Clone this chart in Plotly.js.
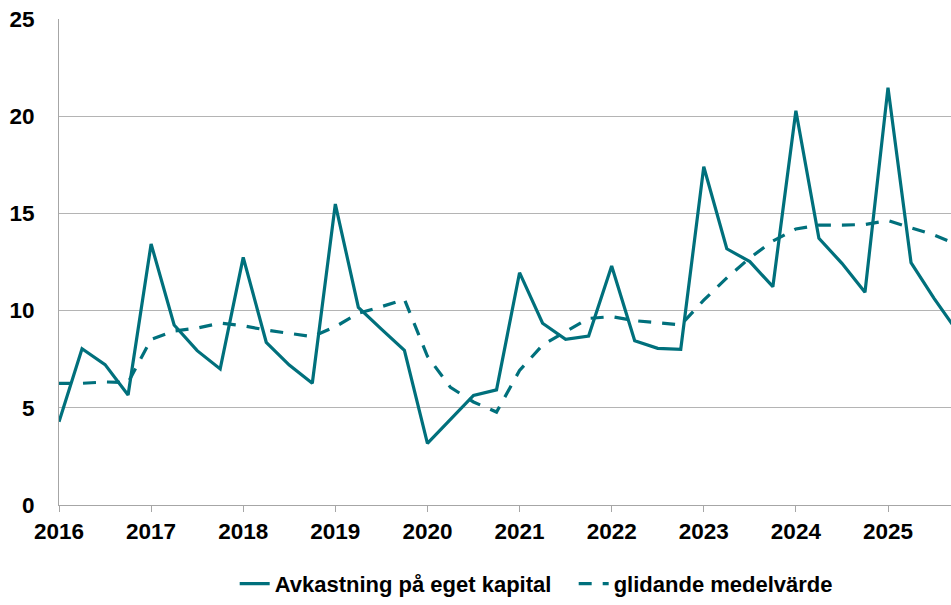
<!DOCTYPE html>
<html>
<head>
<meta charset="utf-8">
<script src="https://cdn.plot.ly/plotly-3.0.1.min.js"></script>
<style>html,body{margin:0;padding:0;background:#fff;}#chart{width:951px;height:605px;}</style>
</head>
<body>
<div id="chart"></div>
<script>
const quarters = [
  '2016K1','2016K2','2016K3','2016K4',
  '2017K1','2017K2','2017K3','2017K4',
  '2018K1','2018K2','2018K3','2018K4',
  '2019K1','2019K2','2019K3','2019K4',
  '2020K1','2020K2','2020K3','2020K4',
  '2021K1','2021K2','2021K3','2021K4',
  '2022K1','2022K2','2022K3','2022K4',
  '2023K1','2023K2','2023K3','2023K4',
  '2024K1','2024K2','2024K3','2024K4',
  '2025K1','2025K2','2025K3','2025K4'
];
const avkastning = [
  4.28, 8.04, 7.22, 5.66,
  13.43, 9.26, 7.94, 7.00,
  12.74, 8.37, 7.20, 6.26,
  15.48, 10.17, 9.05, 7.95,
  3.17, 4.40, 5.64, 5.92,
  11.95, 9.35, 8.52, 8.69,
  12.29, 8.45, 8.06, 8.01,
  17.40, 13.18, 12.52, 11.23,
  20.28, 13.72, 12.43, 10.94,
  21.47, 12.47, 10.63, 8.94
];
const glidande = [
  6.26, 6.26, 6.33, 6.30,
  8.52, 8.95, 9.10, 9.36,
  9.22, 9.00, 8.83, 8.66,
  9.17, 9.86, 10.20, 10.58,
  7.65, 6.05, 5.30, 4.78,
  6.92, 8.23, 8.92, 9.60,
  9.69, 9.48, 9.38, 9.26,
  10.54, 11.68, 12.71, 13.58,
  14.20, 14.40, 14.40, 14.43,
  14.63, 14.27, 13.89, 13.40
];
const yearTicks = [2016, 2017, 2018, 2019, 2020, 2021, 2022, 2023, 2024, 2025];
const yTicks = [0, 5, 10, 15, 20, 25];
const seriesNames = ['Avkastning på eget kapital', 'glidande medelvärde'];

const xVals = quarters.map(q => parseInt(q.slice(0, 4), 10) + (parseInt(q.slice(5), 10) - 1) / 4);

const teal = '#00707c';
const fontFam = 'Liberation Sans, Arial, sans-serif';

const traces = [
  {
    x: xVals, y: avkastning, name: seriesNames[0], type: 'scatter', mode: 'lines',
    line: {color: teal, width: 3.2}
  },
  {
    x: xVals, y: glidande, name: seriesNames[1], type: 'scatter', mode: 'lines',
    line: {color: teal, width: 3.2, dash: '13px,11px'}
  }
];

const layout = {
  width: 951, height: 605,
  margin: {l: 59, r: 0, t: 19, b: 100, pad: 0},
  paper_bgcolor: '#ffffff', plot_bgcolor: '#ffffff',
  font: {family: fontFam, color: '#000000', size: 22, weight: 'bold'},
  showlegend: true,
  legend: {
    orientation: 'h', x: 0.577, xanchor: 'center', y: -0.162, yanchor: 'middle',
    font: {family: fontFam, size: 22, color: '#000000', weight: 'bold'},
    bgcolor: 'rgba(0,0,0,0)',
    entrywidth: 294, entrywidthmode: 'pixels'
  },
  xaxis: {
    type: 'linear', range: [2016, 2025.684], tickvals: yearTicks, ticktext: yearTicks.map(String),
    ticks: 'outside', ticklen: 6, tickcolor: '#a6a6a6', tickwidth: 1,
    showline: true, linecolor: '#a6a6a6', linewidth: 1,
    showgrid: false, zeroline: false,
    tickfont: {family: fontFam, size: 22.5, color: '#000000', weight: 'bold'}
  },
  yaxis: {
    range: [0, 25], tickvals: yTicks, ticks: '', ticklabelstandoff: 19,
    showline: true, linecolor: '#a6a6a6', linewidth: 1,
    showgrid: true, gridcolor: '#b4b4b4', gridwidth: 1, zeroline: false,
    tickfont: {family: fontFam, size: 22.5, color: '#000000', weight: 'bold'}
  }
};

Plotly.newPlot('chart', traces, layout, {displayModeBar: false, staticPlot: true});
</script>
</body>
</html>
